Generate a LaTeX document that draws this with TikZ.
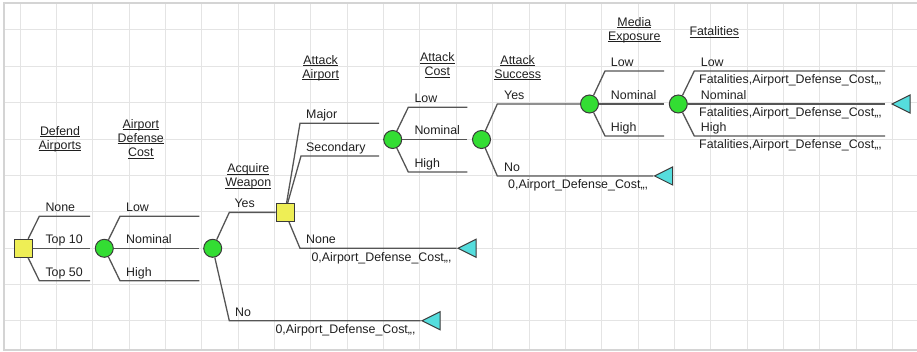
\documentclass[tikz,border=0pt]{standalone}
\usepackage{fontspec}
\setmainfont{Liberation Sans}
\usetikzlibrary{shapes.geometric}

\definecolor{gridgray}{HTML}{E4E4E4}
\definecolor{framegray}{HTML}{D4D4D4}
\definecolor{branchgray}{HTML}{555555}
\definecolor{outlinegray}{HTML}{3A3A3A}
\definecolor{decfill}{HTML}{EEEE55}
\definecolor{chancefill}{HTML}{33DD33}
\definecolor{endfill}{HTML}{55DDDD}

% underline that sits just below the baseline, whatever the descenders
\newcommand\hul[1]{\setbox0\hbox{#1}\rlap{\rule[-1.7pt]{\wd0}{0.9pt}}\box0}
\newcommand\hdrtext[1]{\begin{tabular}[t]{@{}c@{}}#1\end{tabular}}

\tikzset{
  every node/.style={font=\fontsize{12.4}{14.2}\selectfont, text=black!88},
  gridline/.style={draw=gridgray, line width=1pt},
  frameline/.style={draw=framegray, line width=2pt},
  decision/.style={draw=outlinegray, fill=decfill, line width=1pt, rectangle,
    minimum size=18pt, inner sep=0pt},
  chance/.style={draw=outlinegray, fill=chancefill, line width=1pt, circle,
    minimum size=18pt, inner sep=0pt},
  terminal/.style={draw=outlinegray, fill=endfill, line width=1pt,
    isosceles triangle, isosceles triangle stretches, shape border rotate=180,
    minimum width=18pt, minimum height=18pt, inner sep=0pt, anchor=apex},
  branch/.style={draw=branchgray, line width=1.3pt},
  lbl/.style={anchor=base west, inner sep=0pt},
  payoff/.style={anchor=base east, inner sep=0pt},
  hdr/.style={anchor=base, inner sep=0pt},
}

\begin{document}
\begin{tikzpicture}[x=1pt, y=-1pt]
\useasboundingbox (0,0) rectangle (917,352);

% background grid and frame
\foreach \i in {0,...,24}
  \draw[gridline] ({20+\i*36.36},3) -- ({20+\i*36.36},350);
\foreach \j in {0,...,8}
  \draw[gridline] (4,{30+\j*36.36}) -- (917,{30+\j*36.36});
\draw[frameline] (917,3) -- (4,3) -- (4,350) -- (917,350);

% column headings
\node[hdr] (hDA) at (60,135.5)  {\hdrtext{\hul{Defend}\\\hul{Airports}}};
\node[hdr] (hADC) at (140.8,128.5) {\hdrtext{\hul{Airport}\\\hul{Defense}\\\hul{Cost}}};
\node[hdr] (hAW) at (248.3,172.8) {\hdrtext{\hul{Acquire}\\\hul{Weapon}}};
\node[hdr] (hAA) at (320.7,64.2)  {\hdrtext{\hul{Attack}\\\hul{Airport}}};
\node[hdr] (hAC) at (437.3,61.8)  {\hdrtext{\hul{Attack}\\\hul{Cost}}};
\node[hdr] (hAS) at (517.7,64.2)  {\hdrtext{\hul{Attack}\\\hul{Success}}};
\node[hdr] (hME) at (634.3,26.2)  {\hdrtext{\hul{Media}\\\hul{Exposure}}};
\node[hdr] (hF)  at (714.3,35.8)  {\hdrtext{\hul{Fatalities}}};

% decision, chance and end nodes
\node[decision] (d1) at (23.5,248.3) {};
\node[chance]   (c1) at (104.3,248.3) {};
\node[chance]   (c2) at (212.7,248.3) {};
\node[decision] (d2) at (285,212.4) {};
\node[chance]   (c3) at (392.7,139.5) {};
\node[chance]   (c4) at (481.5,139.5) {};
\node[chance]   (c5) at (589.5,104) {};
\node[chance]   (c6) at (678.3,104) {};
\node[terminal] (t1) at (420.7,320.7) {};
\node[terminal] (t2) at (456.7,248.3) {};
\node[terminal] (t3) at (653.3,176) {};
\node[terminal] (t4) at (890.7,104) {};

% branch elbows and free ends
\coordinate (d1a) at (39.3,216.3);  \coordinate (d1ae) at (90,216.3);
                                    \coordinate (d1be) at (90,248.3);
\coordinate (d1c) at (39.3,280.7);  \coordinate (d1ce) at (90,280.7);
\coordinate (c1a) at (120,216.3);   \coordinate (c1ae) at (199.3,216.3);
                                    \coordinate (c1be) at (199.3,248.3);
\coordinate (c1c) at (120,280.7);   \coordinate (c1ce) at (199.3,280.7);
\coordinate (c2a) at (229.3,212.4);
\coordinate (c2b) at (229.3,320.7);
\coordinate (d2a) at (300,123.3);   \coordinate (d2ae) at (379,123.3);
\coordinate (d2b) at (301,156);     \coordinate (d2be) at (379,156);
\coordinate (d2c) at (300,248.3);
\coordinate (c3a) at (408.3,107.3); \coordinate (c3ae) at (467.3,107.3);
                                    \coordinate (c3be) at (467.3,139.5);
\coordinate (c3c) at (408.3,172);   \coordinate (c3ce) at (467.3,172);
\coordinate (c4a) at (497.3,104);
\coordinate (c4b) at (497.3,176);
\coordinate (c5a) at (605,71);      \coordinate (c5ae) at (664,71);
                                    \coordinate (c5be) at (664,104);
\coordinate (c5c) at (605,136);     \coordinate (c5ce) at (664,136);
\coordinate (c6a) at (694.3,71);    \coordinate (c6ae) at (885,71);
                                    \coordinate (c6be) at (885,104);
\coordinate (c6c) at (694.3,136);   \coordinate (c6ce) at (885,136);

% branches
\draw[branch] (d1) -- (d1a) -- (d1ae);
\draw[branch] (d1) -- (d1be);
\draw[branch] (d1) -- (d1c) -- (d1ce);
\draw[branch] (c1) -- (c1a) -- (c1ae);
\draw[branch] (c1) -- (c1be);
\draw[branch] (c1) -- (c1c) -- (c1ce);
\draw[branch] (c2) -- (c2a) -- (d2);
\draw[branch] (c2) -- (c2b) -- (t1);
\draw[branch] (d2) -- (d2a) -- (d2ae);
\draw[branch] (d2) -- (d2b) -- (d2be);
\draw[branch] (d2) -- (d2c) -- (t2);
\draw[branch] (c3) -- (c3a) -- (c3ae);
\draw[branch] (c3) -- (c3be);
\draw[branch] (c3) -- (c3c) -- (c3ce);
\draw[branch] (c4) -- (c4a) -- (c5);
\draw[branch] (c4) -- (c4b) -- (t3);
\draw[branch] (c5) -- (c5a) -- (c5ae);
\draw[branch] (c5) -- (c5be);
\draw[branch] (c5) -- (c5c) -- (c5ce);
\draw[branch] (c6) -- (c6a) -- (c6ae);
\draw[branch] (c6) -- (c6be);
\draw[branch] (c6) -- (c6c) -- (c6ce);

% branch labels
\node[lbl] (l-d1a) at (45.3,211.8) {None};
\node[lbl] (l-d1b) at (45.3,243.8) {Top 10};
\node[lbl] (l-d1c) at (45.3,276.2) {Top 50};
\node[lbl] (l-c1a) at (126,211.8) {Low};
\node[lbl] (l-c1b) at (126,243.8) {Nominal};
\node[lbl] (l-c1c) at (126,276.2) {High};
\node[lbl] (l-c2a) at (234.3,207.9) {Yes};
\node[lbl] (l-c2b) at (235,316.2) {No};
\node[lbl] (l-d2a) at (306,118.8) {Major};
\node[lbl] (l-d2b) at (306,151.5) {Secondary};
\node[lbl] (l-d2c) at (306,243.8) {None};
\node[lbl] (l-c3a) at (414.3,102.8) {Low};
\node[lbl] (l-c3b) at (414.3,135) {Nominal};
\node[lbl] (l-c3c) at (414.3,167.5) {High};
\node[lbl] (l-c4a) at (504,99.5) {Yes};
\node[lbl] (l-c4b) at (504,171.5) {No};
\node[lbl] (l-c5a) at (610.7,66.5) {Low};
\node[lbl] (l-c5b) at (610.7,99.5) {Nominal};
\node[lbl] (l-c5c) at (610.7,131.5) {High};
\node[lbl] (l-c6a) at (700.7,66.5) {Low};
\node[lbl] (l-c6b) at (700.7,99.5) {Nominal};
\node[lbl] (l-c6c) at (700.7,131.5) {High};

% payoffs
\node[payoff] (p1) at (415.7,333.7) {0,Airport\_Defense\_Cost,,,};
\node[payoff] (p2) at (451.7,261.3) {0,Airport\_Defense\_Cost,,,};
\node[payoff] (p3) at (648.3,189) {0,Airport\_Defense\_Cost,,,};
\node[lbl] (p4) at (699,84)  {Fatalities,Airport\_Defense\_Cost,,,};
\node[lbl] (p5) at (699,117) {Fatalities,Airport\_Defense\_Cost,,,};
\node[lbl] (p6) at (699,149) {Fatalities,Airport\_Defense\_Cost,,,};
\end{tikzpicture}
\end{document}
